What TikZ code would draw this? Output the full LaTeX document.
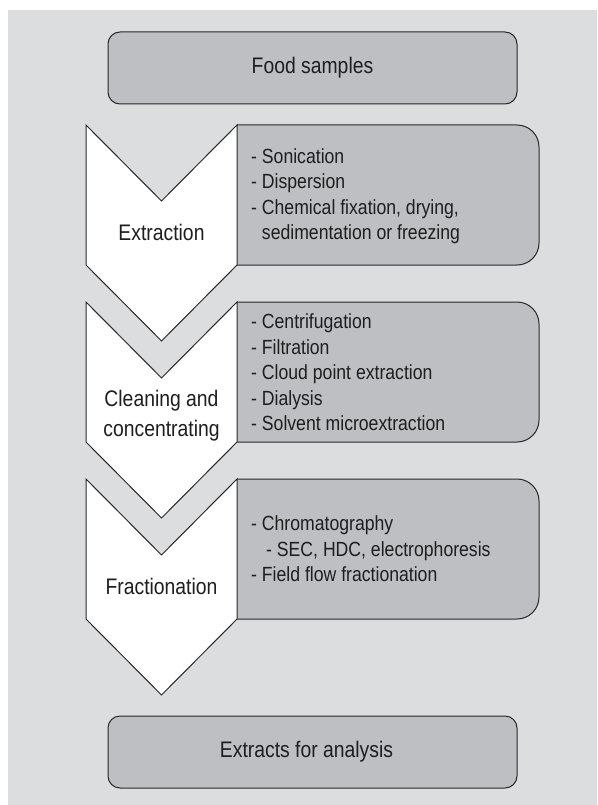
\documentclass[tikz,border=0pt]{standalone}
\usepackage{fontspec}
\setmainfont{Liberation Sans}[FakeStretch=0.86]
\definecolor{bgc}{RGB}{220,221,223}
\definecolor{boxg}{RGB}{190,191,194}
\definecolor{edge}{RGB}{40,40,40}
\definecolor{txt}{RGB}{30,30,30}
\begin{document}
\begin{tikzpicture}[x=1pt,y=-1pt,
  every node/.style={text=txt, inner sep=0pt},
  endbox/.style={draw=edge, fill=boxg, line width=1pt, rounded corners=12pt,
    minimum width=409pt, minimum height=72pt},
  endtext/.style={font=\fontsize{22.5}{27}\selectfont},
  sidebox/.style={draw=edge, fill=boxg, line width=1pt, rounded corners=22pt},
  chevsty/.style={draw=edge, fill=white, line width=1pt, line join=miter},
  chev/.pic={\filldraw[chevsty] (-75.5,0) -- (0,76) -- (75.5,0) -- (75.5,140)
      -- (0,216) -- (-75.5,140) -- cycle;},
  steplabel/.style={align=center, font=\fontsize{22.5}{30}\selectfont},
  itemlist/.style={align=left, anchor=west, font=\fontsize{20.5}{25.5}\selectfont}
]
\useasboundingbox (0,0) rectangle (597,805);
\fill[bgc] (8,10) rectangle (597,805);

% top and bottom boxes
\node[endbox] (food) at (312.5,68) {};
\node[endtext] (foodtext) at (food.center) {Food samples};
\node[endbox] (extracts) at (312.5,752) {};
\node[endtext] (extractstext) at ([xshift=-6pt]extracts.center) {Extracts for analysis};

% side boxes
\filldraw[sidebox] (237,125) -- (539,125) -- (539,265) -- (237,265);
\filldraw[sidebox] (237,302) -- (539,302) -- (539,442) -- (237,442);
\filldraw[sidebox] (237,479) -- (539,479) -- (539,619) -- (237,619);

% chevrons
\pic at (161.5,125) {chev};
\pic at (161.5,302) {chev};
\pic at (161.5,479) {chev};

% labels
\node[steplabel] (extraction) at (161.5,232) {Extraction};
\node[steplabel] (cleaning) at (161.5,416) {Cleaning and\\concentrating};
\node[steplabel] (fractionation) at (161.5,586) {Fractionation};

% item lists
\node[itemlist] (list1) at (251,196) {- Sonication\\- Dispersion\\- Chemical fixation, drying,\\\phantom{- }sedimentation or freezing};
\node[itemlist] (list2) at (251,372.5) {- Centrifugation\\- Filtration\\- Cloud point extraction\\- Dialysis\\- Solvent microextraction};
\node[itemlist] (list3) at (251,549) {- Chromatography\\\hspace{15pt}- SEC, HDC, electrophoresis\\- Field flow fractionation};
\end{tikzpicture}
\end{document}
